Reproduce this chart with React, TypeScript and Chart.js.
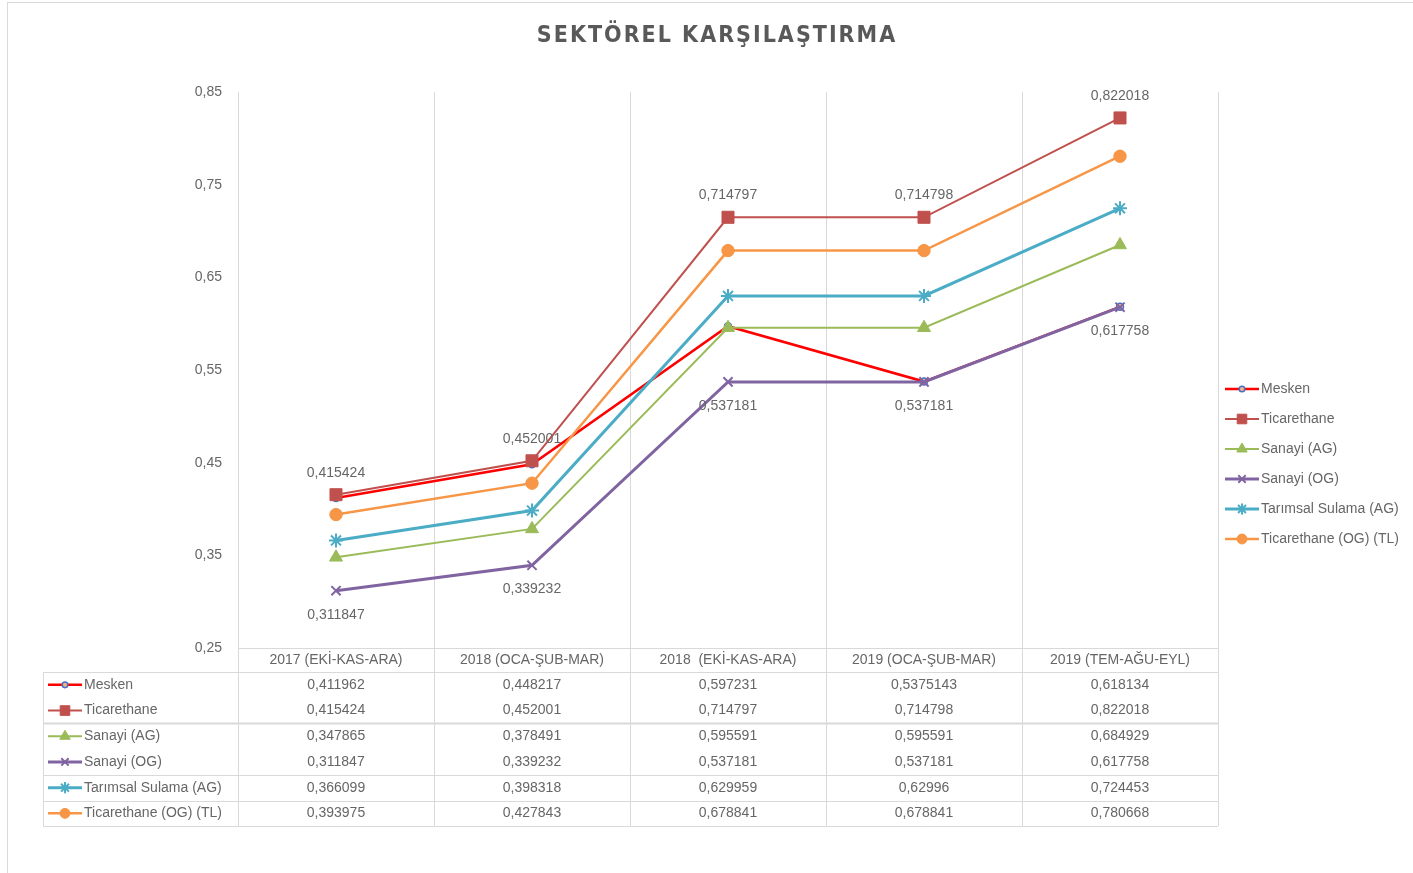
import React, { useEffect, useRef } from "react";
import { Chart, registerables } from "chart.js";
import { drawPoint } from "chart.js/helpers";

Chart.register(...registerables);

const TITLE = "SEKTÖREL KARŞILAŞTIRMA";
const categories = [
  "2017 (EKİ-KAS-ARA)",
  "2018 (OCA-ŞUB-MAR)",
  "2018  (EKİ-KAS-ARA)",
  "2019 (OCA-ŞUB-MAR)",
  "2019 (TEM-AĞU-EYL)",
];
const seriesNames = [
  "Mesken",
  "Ticarethane",
  "Sanayi (AG)",
  "Sanayi (OG)",
  "Tarımsal Sulama (AG)",
  "Ticarethane (OG) (TL)",
];
const mesken = [0.411962, 0.448217, 0.597231, 0.5375143, 0.618134];
const ticarethane = [0.415424, 0.452001, 0.714797, 0.714798, 0.822018];
const sanayiAG = [0.347865, 0.378491, 0.595591, 0.595591, 0.684929];
const sanayiOG = [0.311847, 0.339232, 0.537181, 0.537181, 0.617758];
const tarimsal = [0.366099, 0.398318, 0.629959, 0.62996, 0.724453];
const ticarethaneOG = [0.393975, 0.427843, 0.678841, 0.678841, 0.780668];
const yMin = 0.25;
const yMax = 0.85;
const yStep = 0.1;

const TEXT = "#666666";
const FONT = '"Liberation Sans Narrow", "Liberation Sans", Arial, sans-serif';

const fmt = (v: number) => String(v).replace(".", ",");

const styles = [
  { color: "#FF0000", pointStyle: "circle", radius: 3.5, bg: "#F4B183", border: "#4472C4", bw: 1.5, lw: 2.5 },
  { color: "#C0504D", pointStyle: "rect", radius: 8.5, bg: "#C0504D", border: "#C0504D", bw: 1, lw: 2 },
  { color: "#9BBB59", pointStyle: "triangle", radius: 7.5, bg: "#9BBB59", border: "#9BBB59", bw: 1, lw: 2 },
  { color: "#8064A2", pointStyle: "crossRot", radius: 6.5, bg: "#8064A2", border: "#8064A2", bw: 2, lw: 3 },
  { color: "#4BACC6", pointStyle: "star", radius: 7, bg: "#4BACC6", border: "#4BACC6", bw: 2, lw: 3 },
  { color: "#F79646", pointStyle: "circle", radius: 6.2, bg: "#F79646", border: "#F79646", bw: 1, lw: 2.5 },
];

function drawKey(ctx: CanvasRenderingContext2D, i: number, cx: number, cy: number) {
  const s = styles[i];
  ctx.save();
  ctx.strokeStyle = s.color;
  ctx.lineWidth = s.lw;
  ctx.beginPath();
  ctx.moveTo(cx - 17, cy);
  ctx.lineTo(cx + 17, cy);
  ctx.stroke();
  ctx.fillStyle = s.bg;
  ctx.strokeStyle = s.border;
  ctx.lineWidth = s.bw;
  drawPoint(ctx, { pointStyle: s.pointStyle as any, radius: s.radius * 0.8, rotation: 0, borderWidth: s.bw }, cx, cy);
  ctx.restore();
}

const customPlugin = {
  id: "custom",
  beforeDraw(chart: any) {
    const ctx = chart.ctx as CanvasRenderingContext2D;
    ctx.save();
    ctx.fillStyle = "#ffffff";
    ctx.fillRect(0, 0, chart.width, chart.height);
    ctx.strokeStyle = "#D9D9D9";
    ctx.lineWidth = 1;
    ctx.strokeRect(7.5, 2.5, 1440, 900);
    ctx.fillStyle = "#595959";
    ctx.font = 'bold 23px "DejaVu Sans Condensed", "DejaVu Sans", sans-serif';
    (ctx as any).letterSpacing = "2px";
    ctx.textAlign = "center";
    ctx.textBaseline = "middle";
    ctx.fillText(TITLE, 717, 36);
    ctx.restore();
  },
  afterDatasetsDraw(chart: any) {
    const ctx = chart.ctx as CanvasRenderingContext2D;
    ctx.save();
    ctx.font = `14px ${FONT}`;
    ctx.fillStyle = TEXT;
    ctx.textAlign = "center";
    ctx.textBaseline = "middle";
    const m1 = chart.getDatasetMeta(1);
    m1.data.forEach((p: any, i: number) => ctx.fillText(fmt(ticarethane[i]), p.x, p.y - 22));
    const m3 = chart.getDatasetMeta(3);
    m3.data.forEach((p: any, i: number) => ctx.fillText(fmt(sanayiOG[i]), p.x, p.y + 24));
    ctx.restore();
  },
  afterDraw(chart: any) {
    const ctx = chart.ctx as CanvasRenderingContext2D;
    const xs = chart.scales.x;
    const area = chart.chartArea;
    const left = area.left;
    const right = area.right;
    const top = area.bottom;
    const tableLeft = 43;
    const headerH = 24;
    const rowH = 25.7;
    const rowsTop = top + headerH;
    const series = [mesken, ticarethane, sanayiAG, sanayiOG, tarimsal, ticarethaneOG];
    const bottom = rowsTop + rowH * series.length;
    ctx.save();
    ctx.strokeStyle = "#D9D9D9";
    ctx.lineWidth = 1;
    const n = categories.length;
    const w = (right - left) / n;
    for (let i = 0; i <= n; i++) {
      const x = Math.round(left + i * w) + 0.5;
      ctx.beginPath();
      ctx.moveTo(x, top);
      ctx.lineTo(x, bottom);
      ctx.stroke();
    }
    ctx.beginPath();
    ctx.moveTo(tableLeft + 0.5, rowsTop);
    ctx.lineTo(tableLeft + 0.5, bottom);
    ctx.stroke();
    const hl = (y: number, x0: number, lw = 1) => {
      ctx.lineWidth = lw;
      ctx.beginPath();
      ctx.moveTo(x0, Math.round(y) + 0.5);
      ctx.lineTo(right, Math.round(y) + 0.5);
      ctx.stroke();
    };
    hl(top, left);
    hl(rowsTop, tableLeft);
    hl(rowsTop + rowH * 2, tableLeft, 2);
    hl(rowsTop + rowH * 4, tableLeft);
    hl(rowsTop + rowH * 5, tableLeft);
    hl(bottom, tableLeft);
    ctx.fillStyle = TEXT;
    ctx.font = `14px ${FONT}`;
    ctx.textAlign = "center";
    ctx.textBaseline = "middle";
    categories.forEach((c, i) => ctx.fillText(c, xs.getPixelForValue(i), top + headerH / 2));
    series.forEach((vals, r) => {
      const y = rowsTop + rowH * r + rowH / 2;
      vals.forEach((v, i) => ctx.fillText(fmt(v), xs.getPixelForValue(i), y));
    });
    seriesNames.forEach((name, r) => {
      const y = rowsTop + rowH * r + rowH / 2;
      drawKey(ctx, r, 65, y);
      ctx.fillStyle = TEXT;
      ctx.font = `14px ${FONT}`;
      ctx.textAlign = "left";
      ctx.textBaseline = "middle";
      ctx.fillText(name, 84, y);
    });
    seriesNames.forEach((name, r) => {
      const y = 389 + r * 30;
      drawKey(ctx, r, 1242, y);
      ctx.fillStyle = TEXT;
      ctx.font = `14px ${FONT}`;
      ctx.textAlign = "left";
      ctx.textBaseline = "middle";
      ctx.fillText(name, 1261, y);
    });
    ctx.restore();
  },
};

export default function App() {
  const ref = useRef<HTMLCanvasElement>(null);
  useEffect(() => {
    document.body.style.margin = "0";
    const series = [mesken, ticarethane, sanayiAG, sanayiOG, tarimsal, ticarethaneOG];
    const chart = new Chart(ref.current!, {
      type: "line",
      data: {
        labels: categories,
        datasets: series.map((d, i) => ({
          label: seriesNames[i],
          data: d,
          borderColor: styles[i].color,
          borderWidth: styles[i].lw,
          backgroundColor: styles[i].bg,
          pointStyle: styles[i].pointStyle as any,
          pointRadius: styles[i].radius,
          pointBackgroundColor: styles[i].bg,
          pointBorderColor: styles[i].border,
          pointBorderWidth: styles[i].bw,
          tension: 0,
          fill: false,
          order: series.length - i,
        })),
      },
      options: {
        responsive: false,
        animation: false,
        events: [],
        layout: { padding: { left: 0, right: 195, top: 92, bottom: 225 } },
        plugins: {
          legend: { display: false },
          title: { display: false },
          tooltip: { enabled: false },
        },
        scales: {
          x: {
            offset: true,
            ticks: { display: false },
            grid: { offset: true, color: "#D9D9D9", drawTicks: false },
            border: { display: false },
            afterFit: (s: any) => {
              s.height = 0;
            },
          },
          y: {
            min: yMin,
            max: yMax,
            ticks: {
              stepSize: yStep,
              padding: 16,
              color: TEXT,
              font: { family: FONT, size: 14 },
              callback: (v: any) => Number(v).toFixed(2).replace(".", ","),
            },
            grid: { display: false, drawTicks: false },
            border: { display: false },
            afterFit: (s: any) => {
              s.width = 238;
            },
          },
        },
      },
      plugins: [customPlugin],
    });
    return () => chart.destroy();
  }, []);
  return (
    <div style={{ width: 1413, height: 873, overflow: "hidden" }}>
      <canvas ref={ref} width={1413} height={873} style={{ display: "block" }} />
    </div>
  );
}
